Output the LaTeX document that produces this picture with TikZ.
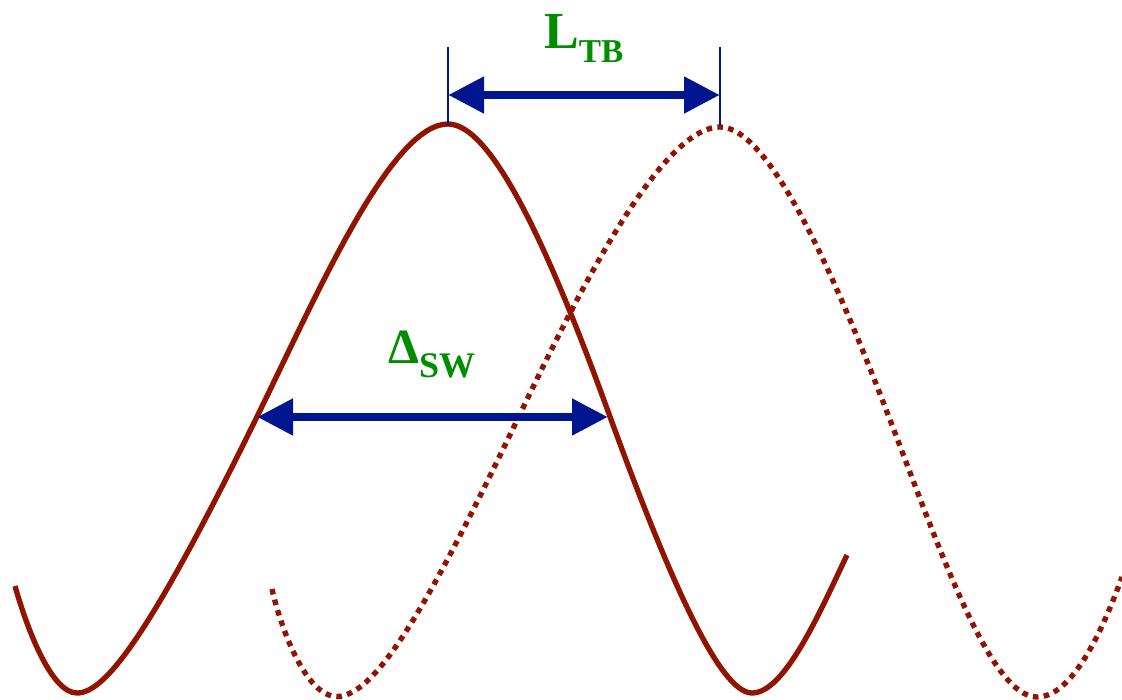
\documentclass[tikz,border=0pt]{standalone}
\usepackage{fontspec}
\setmainfont{Liberation Serif}
\usepackage{tikz}
\usetikzlibrary{arrows.meta}
\definecolor{wavered}{HTML}{911400}
\definecolor{arrowblue}{HTML}{00168F}
\definecolor{labelgreen}{HTML}{008E00}

\begin{document}
\begin{tikzpicture}[x=0.75pt, y=-0.75pt,
    wave/.style={color=wavered, line width=4pt, line join=round},
    shifted/.style={wave, dash pattern=on 4.2pt off 4pt},
    span/.style={{Triangle[length=27pt, width=26pt]}-{Triangle[length=27pt, width=26pt]}, line width=6.5pt, color=arrowblue},
    tick/.style={color=arrowblue, line width=1pt},
    lbl/.style={anchor=base west, inner sep=0pt, color=labelgreen, font=\bfseries}
]
\useasboundingbox (0,0) rectangle (1122,700);

% solid wave
\draw[wave] (15,586) .. controls (28,632) and (52,693) .. (77,693)
  .. controls (105,693) and (150,636) .. (261,408.5)
  .. controls (320,287.5) and (392,124) .. (448,124)
  .. controls (490,124) and (545,238) .. (607,408.5)
  .. controls (670,581.75) and (720,693) .. (752,693)
  .. controls (785,693) and (820,611.7) .. (847,555);

% shifted wave
\draw[shifted] (272,589) .. controls (280,625) and (305,696.5) .. (337,696.5)
  .. controls (380,696.5) and (440,580.5) .. (521,412)
  .. controls (575,299.7) and (660,127) .. (720,127)
  .. controls (770,127) and (835,276.8) .. (887,412)
  .. controls (940,549.8) and (990,697) .. (1037,697)
  .. controls (1072,697) and (1102,632) .. (1122,577);

\coordinate (tbtopL) at (448,47);
\coordinate (tbbotL) at (448,125);
\coordinate (tbtopR) at (720,47);
\coordinate (tbbotR) at (720,125);
\coordinate (tbL) at (448,95);
\coordinate (tbR) at (720,95);
\coordinate (swL) at (257,417);
\coordinate (swR) at (608,417);

\draw[tick] (tbtopL) -- (tbbotL);
\draw[tick] (tbtopR) -- (tbbotR);
\draw[span] (tbL) -- (tbR);
\draw[span] (swL) -- (swR);

\node[lbl] (ltb) at (544,48) {{\fontsize{39}{40}\selectfont L}\raisebox{-10.5pt}{\fontsize{25}{26}\selectfont TB}};
\node[lbl] (dsw) at (388,363) {{\fontsize{37}{40}\selectfont Δ}\raisebox{-11pt}{\fontsize{27}{28}\selectfont SW}};
\end{tikzpicture}
\end{document}
